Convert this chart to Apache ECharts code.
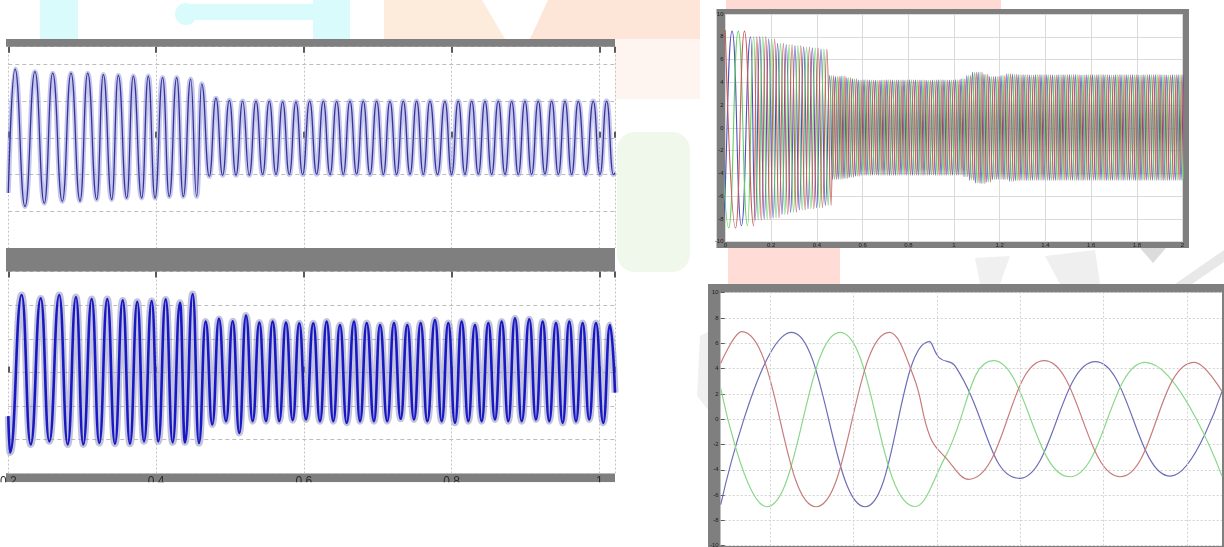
<!DOCTYPE html>
<html><head><meta charset="utf-8">
<script src="https://cdn.jsdelivr.net/npm/echarts@6/dist/echarts.min.js"></script>
<style>html,body{margin:0;padding:0;background:#fff}#c{width:1224px;height:547px}</style>
</head><body><div id="c"></div>
<script>
// ===== DATA =====
// Left-top trace: extremes [time s, value]
const tlWave = [[0.2000,-1.50],[0.2091,1.87],[0.2226,-1.87],[0.2361,1.80],[0.2487,-1.78],[0.2601,1.76],[0.2731,-1.73],[0.2849,1.76],[0.2971,-1.72],[0.3075,1.76],[0.3197,-1.68],[0.3286,1.72],[0.3400,-1.68],[0.3489,1.70],[0.3603,-1.64],[0.3692,1.68],[0.3806,-1.64],[0.3895,1.68],[0.3986,-1.64],[0.4089,1.64],[0.4179,-1.60],[0.4280,1.64],[0.4369,-1.60],[0.4469,1.60],[0.4550,-1.60],[0.4618,1.47],[0.4721,-1.05],[0.4811,1.08],[0.4901,-1.02],[0.4992,1.02],[0.5082,-1.02],[0.5173,1.00],[0.5262,-1.02],[0.5353,1.00],[0.5443,-1.00],[0.5533,1.00],[0.5624,-1.00],[0.5714,0.98],[0.5804,-1.00],[0.5894,0.98],[0.5984,-1.00],[0.6079,1.00],[0.6174,-0.99],[0.6264,1.00],[0.6355,-1.00],[0.6445,0.99],[0.6535,-1.00],[0.6625,1.00],[0.6715,-0.99],[0.6805,1.00],[0.6896,-1.00],[0.6987,1.00],[0.7077,-1.00],[0.7167,0.99],[0.7257,-1.00],[0.7347,1.00],[0.7438,-0.99],[0.7528,1.00],[0.7618,-1.00],[0.7708,1.00],[0.7810,-1.00],[0.7911,0.99],[0.8001,-1.00],[0.8091,1.00],[0.8182,-1.00],[0.8273,1.00],[0.8363,-0.99],[0.8453,1.00],[0.8543,-1.00],[0.8633,1.00],[0.8724,-1.00],[0.8814,0.99],[0.8904,-1.00],[0.8994,1.00],[0.9084,-1.00],[0.9174,1.00],[0.9265,-0.99],[0.9356,1.00],[0.9446,-1.00],[0.9536,1.00],[0.9626,-1.00],[0.9716,0.99],[0.9818,-1.00],[0.9919,1.00],[1.0010,-1.00],[1.0100,1.00],[1.0190,-1.00],[1.0213,-0.95]];

// Left-bottom trace: extremes [time s, value]
const blWave = [[0.2000,-1.30],[0.2023,-2.38],[0.2181,2.30],[0.2303,-2.14],[0.2439,2.20],[0.2555,-2.05],[0.2690,2.30],[0.2804,-2.14],[0.2916,2.24],[0.3015,-2.14],[0.3129,2.18],[0.3232,-2.10],[0.3340,2.18],[0.3444,-2.12],[0.3549,2.14],[0.3647,-2.12],[0.3746,2.10],[0.3837,-2.05],[0.3941,2.12],[0.4030,-2.05],[0.4131,2.17],[0.4225,-2.08],[0.4324,2.07],[0.4392,-2.08],[0.4496,2.33],[0.4581,-2.10],[0.4672,1.51],[0.4761,-1.55],[0.4852,1.59],[0.4947,-1.45],[0.5038,1.52],[0.5127,-1.80],[0.5218,1.69],[0.5308,-1.45],[0.5398,1.48],[0.5488,-1.45],[0.5579,1.51],[0.5668,-1.45],[0.5759,1.48],[0.5850,-1.42],[0.5939,1.46],[0.6030,-1.40],[0.6129,1.46],[0.6219,-1.45],[0.6310,1.51],[0.6399,-1.45],[0.6490,1.41],[0.6581,-1.50],[0.6680,1.51],[0.6761,-1.45],[0.6852,1.47],[0.6950,-1.45],[0.7032,1.41],[0.7130,-1.45],[0.7221,1.47],[0.7312,-1.38],[0.7401,1.41],[0.7492,-1.40],[0.7582,1.47],[0.7672,-1.45],[0.7776,1.56],[0.7867,-1.45],[0.7956,1.47],[0.8047,-1.50],[0.8137,1.51],[0.8227,-1.45],[0.8317,1.41],[0.8408,-1.45],[0.8498,1.47],[0.8588,-1.40],[0.8679,1.51],[0.8768,-1.45],[0.8859,1.61],[0.8950,-1.45],[0.9053,1.58],[0.9143,-1.40],[0.9234,1.51],[0.9323,-1.45],[0.9414,1.47],[0.9505,-1.50],[0.9594,1.51],[0.9685,-1.45],[0.9775,1.47],[0.9864,-1.40],[0.9955,1.47],[1.0054,-1.50],[1.0145,1.41],[1.0213,-0.60]];

const leftTickVals = [0.2, 0.4, 0.6, 0.8, 1.0];
const leftTickLabels = ['0.2', '0.4', '0.6', '0.8', '1'];

// Top-right three-phase trace: cycle start times (s), per-cycle peak and trough
const trCycleT = [-0.061,0.029,0.110,0.150,0.189,0.228,0.266,0.304,0.342,0.380,0.418,
 0.456,0.481,0.506,0.531,0.556,0.581,0.606,0.631,0.656,0.681,0.706,0.731,0.756,0.781,0.806,0.831,0.856,0.881,0.906,0.931,0.956,0.981,1.006,1.031,1.056,1.081,1.106,1.131,1.156,1.181,1.206,1.231,1.256,1.281,1.306,1.331,1.356,1.381,1.406,1.431,1.456,1.481,1.506,1.531,1.556,1.581,1.606,1.631,1.656,1.681,1.706,1.731,1.756,1.781,1.806,1.831,1.856,1.881,1.906,1.931,1.956,1.981,2.006,2.031];
const trHi = [8.6,8.5,8.0,8.0,7.8,7.4,7.3,7.2,7.1,7.0,6.9,
 4.6,4.5,4.55,4.4,4.3,
 4.2,4.22,4.2,4.18,4.2,4.21,4.2,4.19,4.2,4.22,4.2,4.2,4.18,4.2,4.21,4.2,4.2,4.22,
 4.3,4.6,4.9,4.9,4.7,4.5,4.5,4.6,4.75,4.7,
 4.65,4.66,4.64,4.65,4.66,4.65,4.64,4.66,4.65,4.65,4.66,4.64,4.65,4.65,4.66,4.65,4.64,4.65,4.66,4.65,4.65,4.64,4.66,4.65,4.65,4.66,4.64,4.65,4.65,4.66];
const trLo = [-8.8,-8.6,-8.1,-8.0,-7.9,-7.6,-7.4,-7.2,-7.1,-7.0,-6.8,
 -4.55,-4.5,-4.45,-4.35,-4.25,
 -4.15,-4.16,-4.14,-4.15,-4.15,-4.17,-4.15,-4.14,-4.15,-4.16,-4.15,-4.15,-4.14,-4.15,-4.16,-4.15,-4.15,-4.14,
 -4.3,-4.6,-4.85,-4.9,-4.75,-4.55,-4.5,-4.55,-4.7,-4.65,
 -4.6,-4.61,-4.59,-4.6,-4.6,-4.61,-4.6,-4.59,-4.6,-4.6,-4.61,-4.6,-4.59,-4.6,-4.6,-4.61,-4.6,-4.59,-4.6,-4.6,-4.61,-4.6,-4.59,-4.6,-4.6,-4.61,-4.6,-4.59,-4.6,-4.6];
const trPhases = ['Phase A', 'Phase B', 'Phase C'];

// Bottom-right zoomed three-phase trace: [time s, value]
const brRed   = [[0.43408,4.42],[0.4366,6.92],[0.44552,-6.92],[0.45432,6.87],[0.4572,3.4],[0.4592,-1.4],[0.4610,-3.0],[0.4638,-4.75],[0.47288,4.63],[0.4820,-4.55],[0.49088,4.50],[0.4942,2.2]];
const brBlue  = [[0.43408,-6.75],[0.4426,6.87],[0.4514,-6.92],[0.45912,6.13],[0.4603,4.85],[0.4622,4.2],[0.46992,-4.67],[0.4790,4.55],[0.4880,-4.50],[0.4942,2.2]];
const brGreen = [[0.43408,2.44],[0.4396,-6.92],[0.4484,6.87],[0.4574,-6.90],[0.4610,-3.0],[0.4668,4.63],[0.47592,-4.55],[0.4850,4.50],[0.4942,-4.5]];
const brGridX = [0.44, 0.45, 0.46, 0.47, 0.48, 0.49];

// ===== build =====
function trPhase(p) {
  const pts = [];
  const n = Math.min(trCycleT.length - 1, trHi.length, trLo.length);
  for (let k = 0; k < n; k++) {
    const s = trCycleT[k], L = trCycleT[k + 1] - s;
    pts.push([s + L * p / 3, trHi[k]]);
    pts.push([s + L * (p / 3 + 0.5), trLo[k]]);
  }
  return pts;
}

const FONT = 'Liberation Sans';
const chart = echarts.init(document.getElementById('c'), null, {renderer: 'canvas', width: 1224, height: 547});

const gridBase = {show: true, backgroundColor: '#ffffff', borderWidth: 0, containLabel: false, outerBoundsMode: 'none'};
const leftFmt = v => { const i = leftTickVals.findIndex(t => Math.abs(t - v) < 1e-6); return i >= 0 ? leftTickLabels[i] : ''; };
function leftX(grid, pos, withSplit, withLabels) {
  return {
    type: 'value', gridIndex: grid, position: pos, min: 0.2, max: 1.0213, interval: 0.2,
    axisLine: {show: false},
    axisTick: {show: true, inside: true, length: 6, lineStyle: {color: '#5a5a5a', width: 2}},
    axisLabel: {show: withLabels, formatter: leftFmt, fontFamily: FONT, fontSize: 12, color: '#2a2a2a', margin: 2},
    splitLine: {show: withSplit, lineStyle: {color: '#c4c4c4', type: [2, 2], width: 1}}
  };
}
function leftY(grid, min, max) {
  return {
    type: 'value', gridIndex: grid, min: min, max: max, interval: 1,
    axisLine: {show: false}, axisTick: {show: false}, axisLabel: {show: false},
    splitLine: {show: true, lineStyle: {color: '#bdbdbd', type: [4, 3], width: 1}}
  };
}
const lineBase = {type: 'line', showSymbol: false, silent: true, animation: false, smooth: 0.5, smoothMonotone: 'x', clip: true};
const lineSoft = {type: 'line', showSymbol: false, silent: true, animation: false, smooth: 0.45, clip: true};

const trColors = ['#4e4ec0', '#62cf62', '#c85c5c'];
const trSeries = trPhases.map((name, p) => Object.assign({}, lineBase, {
  name: name, xAxisIndex: 4, yAxisIndex: 2, data: trPhase(p),
  lineStyle: {color: trColors[p], width: 1.1}
}));

const rectStyle = c => ({fill: c});
const wm = [
  {type: 'rect', shape: {x: 40, y: 0, width: 38, height: 39}, style: rectStyle('#dafbfc')},
  {type: 'rect', shape: {x: 182, y: 4, width: 131, height: 16}, style: rectStyle('#dafbfc')},
  {type: 'circle', shape: {cx: 186, cy: 14, r: 11}, style: rectStyle('#dafbfc')},
  {type: 'rect', shape: {x: 313, y: 0, width: 37, height: 39}, style: rectStyle('#dafbfc')},
  {type: 'polygon', shape: {points: [[384, 0], [482, 0], [505, 39], [384, 39]]}, style: rectStyle('#fdebdc')},
  {type: 'polygon', shape: {points: [[548, 0], [700, 0], [700, 39], [530, 39]]}, style: rectStyle('#fde6d8')},
  {type: 'rect', shape: {x: 615, y: 39, width: 85, height: 60}, style: rectStyle('#fef5f0')},
  {type: 'rect', shape: {x: 617, y: 132, width: 73, height: 140, r: 18}, style: rectStyle('#eff8ea')},
  {type: 'rect', shape: {x: 726, y: 0, width: 275, height: 9}, style: rectStyle('#ffd9d3')},
  {type: 'rect', shape: {x: 728, y: 248, width: 112, height: 36}, style: rectStyle('#ffdcd6')},
  {type: 'polygon', shape: {points: [[1140, 248], [1166, 248], [1153, 263]]}, style: rectStyle('#dcdcdc')},
  {type: 'polygon', shape: {points: [[1045, 256], [1095, 250], [1100, 284], [1060, 284]]}, style: rectStyle('#efefef')},
  {type: 'polygon', shape: {points: [[975, 258], [1010, 256], [1000, 284], [980, 284]]}, style: rectStyle('#f0f0f0')},
  {type: 'polygon', shape: {points: [[1175, 284], [1224, 250], [1224, 262], [1192, 284]]}, style: rectStyle('#e8e8e8')},
  {type: 'polygon', shape: {points: [[700, 336], [708, 332], [708, 410], [697, 396]]}, style: rectStyle('#f0f0f0')}
].map(e => Object.assign(e, {z: -10, silent: true}));

const GRAY = '#7f7f7f';
const barsTop = [
  {x: 6, y: 39, width: 609, height: 7.7},
  {x: 6, y: 248, width: 609, height: 23.5}
].map(s => ({type: 'rect', shape: s, style: {fill: GRAY}, z: 3, silent: true}));
const frames = [
  {x: 6, y: 473.3, width: 609, height: 9},
  // top-right frame
  {x: 716.7, y: 9, width: 472.3, height: 5},
  {x: 716.7, y: 241.7, width: 472.3, height: 6.3},
  {x: 716.7, y: 9, width: 8.8, height: 239},
  {x: 1182.5, y: 9, width: 6.5, height: 239},
  // bottom-right frame
  {x: 708, y: 284, width: 516, height: 8.7},
  {x: 708, y: 545.7, width: 516, height: 1.3},
  {x: 708, y: 284, width: 12.7, height: 263},
  {x: 1222, y: 284, width: 2, height: 263}
].map(s => ({type: 'rect', shape: s, style: {fill: GRAY}, z: -5, silent: true}));
// the original picture is cut through the lower half of the left tick labels
const cover = [{type: 'rect', shape: {x: 0, y: 482.3, width: 640, height: 30}, style: {fill: '#ffffff'}, z: 100, silent: true}];

const option = {
  animation: false,
  backgroundColor: '#ffffff',
  textStyle: {fontFamily: FONT},
  grid: [
    Object.assign({left: 8.3, top: 46.7, width: 606.7, height: 201.3}, gridBase),
    Object.assign({left: 8.3, top: 271.5, width: 606.7, height: 201.8}, gridBase),
    Object.assign({left: 725.5, top: 14, width: 457, height: 227.7}, gridBase),
    Object.assign({left: 720.7, top: 292.7, width: 501.3, height: 253}, gridBase)
  ],
  xAxis: [
    leftX(0, 'bottom', true, false),
    leftX(0, 'top', false, false),
    leftX(1, 'bottom', true, true),
    leftX(1, 'top', false, false),
    {type: 'value', gridIndex: 2, min: 0, max: 2, interval: 0.2,
      axisLine: {show: false}, axisTick: {show: false},
      axisLabel: {show: true, fontSize: 6, color: '#1e1e1e', margin: 1, fontFamily: FONT},
      splitLine: {show: true, lineStyle: {color: '#dadada', width: 1}}},
    {type: 'value', gridIndex: 3, min: 0.43408, max: 0.4942,
      axisLine: {show: false}, axisTick: {show: false}, axisLabel: {show: false}, splitLine: {show: false}}
  ],
  yAxis: [
    leftY(0, -3, 2.48),
    leftY(1, -3, 3),
    {type: 'value', gridIndex: 2, min: -10, max: 10, interval: 2,
      axisLine: {show: false}, axisTick: {show: false},
      axisLabel: {show: true, fontSize: 6, color: '#1e1e1e', margin: 2, fontFamily: FONT},
      splitLine: {show: true, lineStyle: {color: '#dadada', width: 1}}},
    {type: 'value', gridIndex: 3, min: -10, max: 10, interval: 2,
      axisLine: {show: false},
      axisTick: {show: true, inside: true, length: 4, lineStyle: {color: '#5a5a5a', width: 1}},
      axisLabel: {show: true, fontSize: 6, color: '#1e1e1e', margin: 2, fontFamily: FONT},
      splitLine: {show: true, lineStyle: {color: '#d2d2d2', type: [2, 2], width: 1}}}
  ],
  graphic: {elements: wm.concat(frames, barsTop, cover)},
  series: [
    // top-left
    Object.assign({}, lineBase, {name: 'tl-halo', xAxisIndex: 0, yAxisIndex: 0, data: tlWave,
      lineStyle: {color: 'rgba(130,130,215,0.45)', width: 5}}),
    Object.assign({}, lineBase, {name: 'tl', xAxisIndex: 0, yAxisIndex: 0, data: tlWave,
      lineStyle: {color: '#34349a', width: 1.3}}),
    // bottom-left
    Object.assign({}, lineBase, {name: 'bl-halo', xAxisIndex: 2, yAxisIndex: 1, data: blWave,
      lineStyle: {color: 'rgba(135,135,185,0.5)', width: 7}}),
    Object.assign({}, lineBase, {name: 'bl', xAxisIndex: 2, yAxisIndex: 1, data: blWave,
      lineStyle: {color: '#1818c4', width: 2.6}}),
    // top-right
    ...trSeries,
    // bottom-right
    Object.assign({}, lineSoft, {name: 'br-blue', xAxisIndex: 5, yAxisIndex: 3, data: brBlue,
      lineStyle: {color: '#6e6eb8', width: 1.2},
      markLine: {silent: true, animation: false, symbol: ['none', 'none'], label: {show: false},
        lineStyle: {color: '#d2d2d2', type: [2, 2], width: 1},
        data: brGridX.map(v => ({xAxis: v}))}}),
    Object.assign({}, lineSoft, {name: 'br-green', xAxisIndex: 5, yAxisIndex: 3, data: brGreen,
      lineStyle: {color: '#8ad88a', width: 1.2}}),
    Object.assign({}, lineSoft, {name: 'br-red', xAxisIndex: 5, yAxisIndex: 3, data: brRed,
      lineStyle: {color: '#c87c7c', width: 1.2}})
  ]
};
chart.setOption(option);
</script>
</body></html>
